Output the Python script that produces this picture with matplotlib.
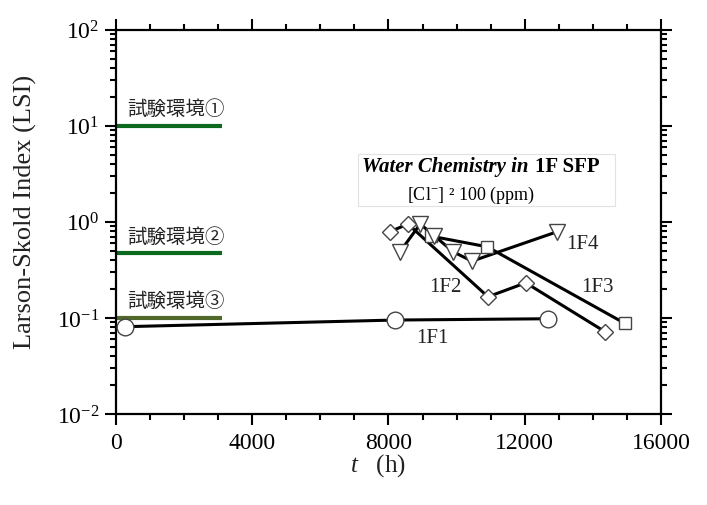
import numpy as np
import matplotlib
matplotlib.use("Agg")
import matplotlib.pyplot as plt
from matplotlib.ticker import LogLocator, FixedLocator, NullFormatter
from matplotlib.patches import Rectangle

plt.rcParams['font.family'] = ['Liberation Serif', 'DejaVu Serif']
plt.rcParams['mathtext.fontset'] = 'custom'
plt.rcParams['mathtext.rm'] = 'Liberation Serif'
plt.rcParams['mathtext.it'] = 'Liberation Serif:italic'

# data (t in hours, LSI)
t_1f1 = [260, 8190, 12680]
lsi_1f1 = [0.081, 0.095, 0.098]

t_1f2 = [8040, 8570, 10920, 12030, 14350]
lsi_1f2 = [0.79, 0.95, 0.166, 0.232, 0.072]

t_1f3 = [9250, 10900, 14930]
lsi_1f3 = [0.71, 0.55, 0.088]

t_1f4 = [8340, 8930, 9340, 9890, 10450, 12950]
lsi_1f4 = [0.49, 0.95, 0.72, 0.49, 0.39, 0.79]

env_names = ['試験環境①', '試験環境②', '試験環境③']
env_lsi = [10.0, 0.47, 0.10]
env_t = [0, 3100]
env_colors = ['#0b6a1e', '#0b6a1e', '#50692a']

series_names = ['1F1', '1F2', '1F3', '1F4']
series_label_pos = [(9280, 0.063), (9660, 0.21), (14120, 0.21), (13680, 0.60)]

x_ticks = [0, 4000, 8000, 12000, 16000]
x_minor = list(range(0, 16001, 1000))
y_ticks = [0.01, 0.1, 1, 10, 100]
y_ticklabels = [r'$10^{-2}$', r'$10^{-1}$', r'$10^{0}$', r'$10^{1}$', r'$10^{2}$']

fig = plt.figure(figsize=(7.07, 5.06), dpi=100, facecolor='white')
ax = fig.add_axes([0.164, 0.180, 0.771, 0.759])
ax.set_yscale('log')
ax.set_xlim(0, 16000)
ax.set_ylim(0.01, 100)

# test environment lines
for name, val, col in zip(env_names, env_lsi, env_colors):
    ax.plot(env_t, [val, val], color=col, lw=3, solid_capstyle='butt', zorder=2)
    ax.text(330, val * 1.18, name, family=['Noto Sans CJK JP', 'DejaVu Sans'],
            fontsize=14, va='bottom', ha='left', color='#222222', zorder=2)

mk = dict(mfc='white', mec='#444444', mew=1.0)
ax.plot(t_1f1, lsi_1f1, color='black', lw=2.2, zorder=3)
ax.plot(t_1f1, lsi_1f1, 'o', ms=12, zorder=5, **mk)
ax.plot(t_1f3, lsi_1f3, color='black', lw=2.2, zorder=3)
ax.plot(t_1f4, lsi_1f4, color='black', lw=2.2, zorder=3)
ax.plot(t_1f2, lsi_1f2, color='black', lw=2.2, zorder=3)
ax.plot(t_1f3, lsi_1f3, 's', ms=9, zorder=5, **mk)
ax.plot(t_1f4, lsi_1f4, 'v', ms=11, zorder=5, **mk)
ax.plot(t_1f2, lsi_1f2, 'D', ms=8, zorder=5, **mk)

for name, (tx, ty) in zip(series_names, series_label_pos):
    ax.text(tx, ty, name, fontsize=15, ha='center', va='center', color='#222222', zorder=6)

# inset note box
fig.patches.append(Rectangle((358 / 707, 1 - 207 / 506), 257 / 707, 52 / 506,
                             transform=fig.transFigure, fill=True, fc='white',
                             ec='#e2e2e2', lw=0.8, zorder=1))
fig.text(529 / 707, 1 - 167 / 506, 'Water Chemistry in', fontsize=15,
         fontweight='bold', fontstyle='italic', ha='right', va='center')
fig.text(535 / 707, 1 - 167 / 506, '1F SFP', fontsize=15,
         fontweight='bold', ha='left', va='center')
fig.text(471 / 707, 1 - 195 / 506, r'[Cl$^{-}$] ² 100 (ppm)', fontsize=13,
         ha='center', va='center')

# ticks
ax.xaxis.set_major_locator(FixedLocator(x_ticks))
ax.xaxis.set_minor_locator(FixedLocator(x_minor))
ax.set_xticklabels([str(v) for v in x_ticks])
ax.yaxis.set_major_locator(FixedLocator(y_ticks))
ax.yaxis.set_minor_locator(LogLocator(base=10, subs=np.arange(2, 10)))
ax.yaxis.set_minor_formatter(NullFormatter())
ax.set_yticklabels(y_ticklabels)
ax.tick_params(which='both', direction='out', top=True, right=True, width=1.5,
               labelsize=17, colors='black')
ax.tick_params(axis='x', pad=5)
ax.tick_params(axis='y', pad=4)
ax.tick_params(which='major', length=8)
ax.tick_params(which='minor', length=4)
for s in ax.spines.values():
    s.set_linewidth(1.6)

fig.text(25 / 707, 1 - 212 / 506, 'Larson-Skold Index (LSI)', rotation=90,
         fontsize=19, ha='center', va='center', color='#222222')
fig.text(378 / 707, 1 - 466 / 506, r'$t$   (h)', fontsize=18, ha='center', va='center',
         color='#222222')

fig.savefig('out.png', dpi=100, facecolor='white')
